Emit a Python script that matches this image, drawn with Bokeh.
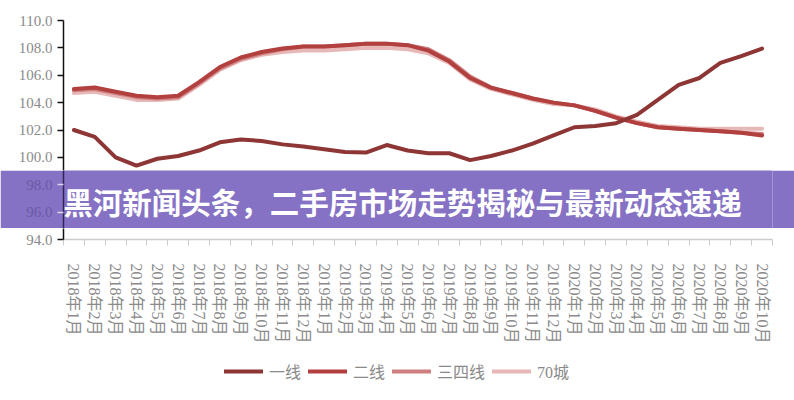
from bokeh.plotting import figure
from bokeh.layouts import column
from bokeh.models import (FixedTicker, Legend, LegendItem, Label, Range1d, NumeralTickFormatter)
from bokeh.embed import file_html
from bokeh.resources import INLINE

months = ["2018年1月", "2018年2月", "2018年3月", "2018年4月", "2018年5月", "2018年6月",
          "2018年7月", "2018年8月", "2018年9月", "2018年10月", "2018年11月", "2018年12月",
          "2019年1月", "2019年2月", "2019年3月", "2019年4月", "2019年5月", "2019年6月",
          "2019年7月", "2019年8月", "2019年9月", "2019年10月", "2019年11月", "2019年12月",
          "2020年1月", "2020年2月", "2020年3月", "2020年4月", "2020年5月", "2020年6月",
          "2020年7月", "2020年8月", "2020年9月", "2020年10月"]

tier1 = [102.0, 101.5, 100.0, 99.4, 99.9, 100.1, 100.5, 101.1, 101.3, 101.2, 100.95, 100.8,
         100.6, 100.4, 100.35, 100.9, 100.5, 100.3, 100.3, 99.8, 100.1, 100.5, 101.0, 101.6,
         102.2, 102.3, 102.5, 103.1, 104.2, 105.3, 105.8, 106.9, 107.4, 107.95]
tier2 = [105.0, 105.1, 104.8, 104.5, 104.4, 104.5, 105.5, 106.6, 107.3, 107.7, 107.95, 108.1,
         108.1, 108.2, 108.3, 108.3, 108.2, 107.8, 107.0, 105.8, 105.1, 104.7, 104.3, 104.0,
         103.8, 103.4, 102.9, 102.5, 102.2, 102.1, 102.0, 101.9, 101.8, 101.6]
tier34 = [104.9, 105.0, 104.7, 104.4, 104.3, 104.4, 105.4, 106.5, 107.2, 107.6, 107.9, 108.1,
          108.1, 108.2, 108.3, 108.3, 108.2, 107.9, 107.1, 105.9, 105.1, 104.7, 104.3, 104.0,
          103.8, 103.4, 102.9, 102.5, 102.2, 102.1, 102.0, 101.9, 101.8, 101.7]
city70 = [104.7, 104.8, 104.5, 104.2, 104.2, 104.3, 105.3, 106.4, 107.1, 107.5, 107.7, 107.8,
          107.8, 107.9, 108.0, 108.0, 107.9, 107.6, 106.9, 105.7, 105.0, 104.6, 104.2, 103.9,
          103.8, 103.5, 103.0, 102.6, 102.3, 102.2, 102.1, 102.1, 102.1, 102.1]
series_names = ["一线", "二线", "三四线", "70城"]
y_ticks = [94, 96, 98, 100, 102, 104, 106, 108, 110]
title_text = "黑河新闻头条，二手房市场走势揭秘与最新动态速递"

xs = list(range(len(months)))
FONT = "Liberation Serif, Noto Sans CJK SC"
colors = ["#8e3535", "#b1403f", "#cf7f7f", "#e7b8b8"]
data = [tier1, tier2, tier34, city70]

# layout (pixels)
W = 794
LEFT, RIGHT = 63, 22
PLOT_TOP, BAN_TOP, BAN_BOT, PLOT_BOT, LEG_TOP, H = 20, 170, 228, 239, 350, 400
Y_MIN, Y_MAX = 94.0, 110.0
ppu = (PLOT_BOT - PLOT_TOP) / (Y_MAX - Y_MIN)
yA0 = Y_MAX - (BAN_TOP - PLOT_TOP) / ppu
yB0 = yA0 - (BAN_BOT - BAN_TOP) / ppu


def style_yaxis(p, lo, hi, line_color, label_color, tick_color):
    ax = p.yaxis[0]
    ax.ticker = FixedTicker(ticks=[t for t in y_ticks if lo - 1e-6 <= t <= hi + 1e-6])
    ax.formatter = NumeralTickFormatter(format="0.0")
    ax.axis_line_color = line_color
    ax.axis_line_width = 1.5
    ax.major_tick_line_color = tick_color
    ax.major_tick_line_width = 1.5
    ax.major_tick_out = 6
    ax.major_tick_in = 0
    ax.minor_tick_line_color = None
    ax.major_label_standoff = 5
    ax.major_label_text_font = FONT
    ax.major_label_text_font_size = "15px"
    ax.major_label_text_color = label_color


def base_fig(height, lo, hi, top, bottom, with_x, with_y=True, left=LEFT, right=RIGHT):
    p = figure(width=W, height=height, output_backend="svg", toolbar_location=None,
               x_range=Range1d(-0.5, len(months) - 0.5), y_range=Range1d(lo, hi),
               x_axis_location="below" if with_x else None,
               y_axis_location="left" if with_y else None,
               min_border_left=left, min_border_right=right,
               min_border_top=top, min_border_bottom=bottom)
    p.outline_line_color = None
    p.xgrid.visible = False
    p.ygrid.visible = False
    return p


def draw_lines(p):
    rs = {}
    for idx in [3, 2, 1, 0]:
        rs[idx] = p.line(xs, data[idx], line_color=colors[idx], line_width=4,
                         line_cap="round", line_join="round")
    return rs


# top part of chart
pA = base_fig(BAN_TOP, yA0, Y_MAX, PLOT_TOP, 0, False)
draw_lines(pA)
style_yaxis(pA, yA0, Y_MAX, "#111111", "#8a8a8a", "#111111")

# banner strip
pB = base_fig(BAN_BOT - BAN_TOP, yB0, yA0, 0, 0, False)
pB.background_fill_color = "#8672c4"
pB.border_fill_color = "#8672c4"
draw_lines(pB)
style_yaxis(pB, yB0, yA0, "#2e2456", "#6a5aa6", "#d9d3ee")
title = Label(x=339, y=(BAN_BOT - BAN_TOP) / 2 - 1, x_units="screen", y_units="screen",
              text=title_text, text_font="Noto Sans CJK SC", text_font_style="bold",
              text_font_size="29.5px", text_color="white", text_align="center",
              text_baseline="middle")
pB.add_layout(title)

# bottom part with x axis
pC = base_fig(LEG_TOP - BAN_BOT, Y_MIN, yB0, 0, LEG_TOP - PLOT_BOT, True)
draw_lines(pC)
style_yaxis(pC, Y_MIN, yB0, "#111111", "#8a8a8a", "#111111")
xax = pC.xaxis[0]
xax.ticker = FixedTicker(ticks=xs, minor_ticks=[i - 0.5 for i in range(len(months) + 1)])
xax.major_label_overrides = {i: m for i, m in enumerate(months)}
xax.major_label_orientation = "vertical"
xax.axis_line_color = "#cccccc"
xax.axis_line_width = 1.5
xax.major_tick_line_color = None
xax.major_tick_out = 6
xax.major_tick_in = 0
xax.minor_tick_line_color = "#cccccc"
xax.minor_tick_out = 6
xax.minor_tick_in = 0
xax.major_label_standoff = 18
xax.major_label_text_font = FONT
xax.major_label_text_font_size = "16px"
xax.major_label_text_color = "#8a8a8a"

# legend strip (frame fills the strip; series lie outside its y range)
pD = base_fig(H - LEG_TOP, 0, 1, 0, 0, False, with_y=False, left=0, right=0)
rD = draw_lines(pD)
legend = Legend(items=[LegendItem(label=series_names[i], renderers=[rD[i]]) for i in range(4)],
                orientation="horizontal", location=(161, 17),
                glyph_width=39, glyph_height=20, label_standoff=6, spacing=7,
                padding=0, margin=0, border_line_color=None, background_fill_alpha=0,
                label_text_font=FONT, label_text_font_size="16px", label_text_color="#8a8a8a")
pD.add_layout(legend, "center")

layout = column(pA, pB, pC, pD, spacing=0)
open("out.html", "w").write(file_html(layout, INLINE))
